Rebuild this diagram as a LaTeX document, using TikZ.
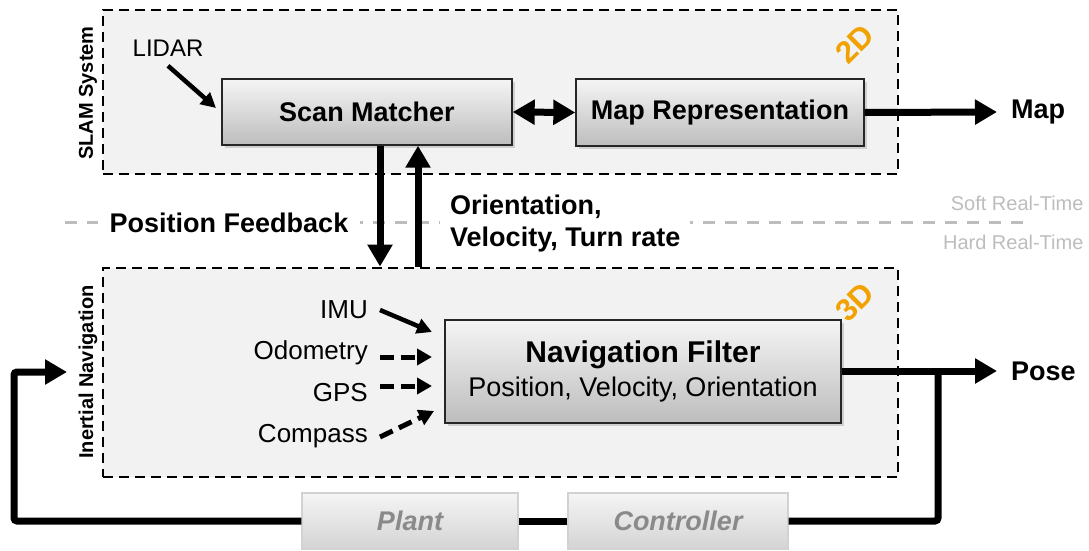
\documentclass[tikz,border=0pt]{standalone}
\usepackage{fontspec}
\setmainfont{Liberation Sans}
\usepackage{tikz}
\usetikzlibrary{arrows.meta,calc,shadows}
\definecolor{panelgray}{HTML}{F2F2F2}
\definecolor{boxtop}{HTML}{F5F5F5}
\definecolor{boxbottom}{HTML}{BDBDBD}
\definecolor{ghosttext}{HTML}{8A8A8A}
\definecolor{ghostedge}{HTML}{D2D2D2}
\definecolor{rtgray}{HTML}{BDBDBD}
\definecolor{dimorange}{HTML}{F2A200}

\begin{document}
\begin{tikzpicture}[
    x=1pt, y=-1pt,
    panel/.style={draw, line width=2.8pt, dash pattern=on 10pt off 6pt, fill=panelgray, inner sep=0pt},
    block/.style={draw=black!85, line width=1.4pt, top color=boxtop, bottom color=boxbottom, inner sep=0pt,
        drop shadow={shadow xshift=2.5pt, shadow yshift=-3pt, opacity=0.3}, font=\fontsize{27}{31}\selectfont\bfseries},
    ghost/.style={draw=ghostedge, line width=1.4pt, top color=boxtop, bottom color=black!17, inner sep=0pt,
        minimum height=56pt, text=ghosttext, font=\fontsize{27}{31}\selectfont\bfseries\itshape},
    sidetitle/.style={rotate=90, font=\fontsize{20}{24}\selectfont\bfseries},
    dimtag/.style={rotate=45, text=dimorange, font=\fontsize{31}{33}\selectfont\bfseries, inner sep=0pt},
    source/.style={anchor=east, inner xsep=12pt, font=\fontsize{26}{30}\selectfont},
    outlabel/.style={anchor=west, inner xsep=14pt, font=\fontsize{27}{31}\selectfont\bfseries},
    rtlabel/.style={anchor=east, text=rtgray, font=\fontsize{20}{24}\selectfont},
    bigarrow/.style={line width=7pt, -{Triangle[length=22pt,width=24pt]}},
    feed/.style={line width=4.5pt, -{Triangle[length=15pt,width=15pt]}},
    dashfeed/.style={line width=5pt, dash pattern=on 14pt off 7pt, -{Triangle[length=15pt,width=16pt]}},
    loopline/.style={line width=7pt, rounded corners=3pt}
]
\useasboundingbox (0,0) rectangle (1089,551);

% the two layers
\node[panel, minimum width=795pt, minimum height=164pt] (slam) at (500.5,92) {};
\node[panel, minimum width=795pt, minimum height=209pt] (ins) at (500.5,372.5) {};
\node[sidetitle] (slamtitle) at (88,93) {SLAM System};
\node[sidetitle] (institle) at (88,372) {Inertial Navigation};
\node[dimtag] (tag2d) at (855,44) {2D};
\node[dimtag] (tag3d) at (855,302) {3D};

% real-time border
\draw[rtgray, line width=3pt, dash pattern=on 12pt off 10pt] (65,222) -- (1030,222);
\node[rtlabel] (soft) at (1087,203) {Soft Real-Time};
\node[rtlabel] (hard) at (1087,242) {Hard Real-Time};
\node[fill=white, inner xsep=12pt, font=\fontsize{27}{31}\selectfont\bfseries] (posfb) at (229,223) {Position Feedback};
\node[fill=white, anchor=west, align=left, inner xsep=10pt, font=\fontsize{27}{32}\selectfont\bfseries] (orient) at (440,224) {Orientation,\\Velocity, Turn rate};

% SLAM blocks
\node[block, minimum width=290pt, minimum height=66pt] (scan) at (367,112) {Scan Matcher};
\node[block, minimum width=288pt, minimum height=67pt] (maprep) at (720,112.5) {Map Representation};
\node[font=\fontsize{24}{28}\selectfont] (lidar) at (168,48) {LIDAR};
\node[outlabel] (map) at (997,112) {Map};
\coordinate (lidarin) at (216,108);
\draw[feed] ([yshift=-6pt]lidar.south) -- (lidarin);
\draw[line width=7pt, {Triangle[length=22pt,width=24pt]}-{Triangle[length=22pt,width=24pt]}] (scan.east) -- (maprep.west);
\draw[bigarrow] (maprep.east) -- (map.west);

% navigation filter and sensors
\node[block, minimum width=396pt, minimum height=103pt, align=center, font=\fontsize{27}{30}\selectfont] (filter) at (643,371.5)
    {{\fontsize{30}{30}\selectfont\bfseries Navigation Filter}\\[4pt]Position, Velocity, Orientation};
\node[source] (imu) at (380,310) {IMU};
\node[source] (odo) at (380,353) {Odometry};
\node[source] (gps) at (380,393) {GPS};
\node[source] (compass) at (380,436) {Compass};
\coordinate (imuin) at (432,332);
\coordinate (odoin) at (432,357);
\coordinate (gpsin) at (432,386);
\coordinate (compin) at (434,411);
\draw[feed] (imu.east) -- (imuin);
\draw[dashfeed] (odo.east |- odoin) -- (odoin);
\draw[dashfeed] (gps.east |- gpsin) -- (gpsin);
\draw[dashfeed] ([yshift=-1pt]compass.east) -- (compin);

% between the layers
\draw[bigarrow] ([xshift=13pt]scan.south) -- ([xshift=13pt]scan.south |- ins.north);
\draw[bigarrow] ([xshift=51pt]scan.south |- ins.north) -- ([xshift=51pt]scan.south);

% control loop
\node[ghost, minimum width=216pt] (plant) at (410,521) {Plant};
\node[ghost, minimum width=220pt] (ctrl) at (678,521) {Controller};
\node[outlabel] (pose) at (997,371) {Pose};
\coordinate (split) at (938,371);
\coordinate (loopin) at (67,372);
\draw[loopline] (split) |- (ctrl.east);
\draw[loopline] (ctrl.west) -- (plant.east);
\draw[loopline, -{Triangle[length=22pt,width=24pt]}] (plant.west) -| ([xshift=-53pt]loopin) -- (loopin);
\draw[bigarrow] (filter.east |- pose) -- (pose.west);
\end{tikzpicture}
\end{document}
